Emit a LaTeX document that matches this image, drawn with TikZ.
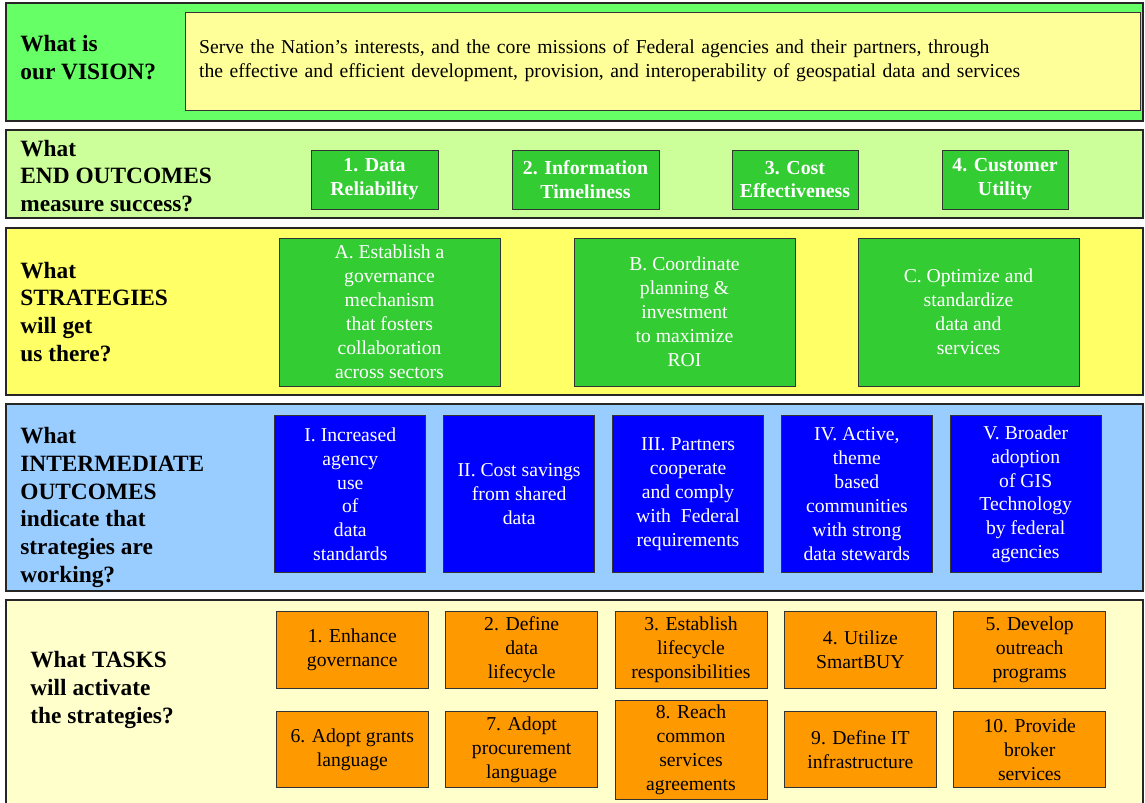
\documentclass[tikz,border=0pt]{standalone}
\usepackage{fontspec}
\setmainfont{Liberation Serif}
\usetikzlibrary{matrix}

\definecolor{visgreen}{HTML}{66FF66}
\definecolor{visyellow}{HTML}{FFFF99}
\definecolor{endgreen}{HTML}{CCFF99}
\definecolor{boxgreen}{HTML}{33CC33}
\definecolor{stratyellow}{HTML}{FFFF66}
\definecolor{interblue}{HTML}{99CCFF}
\definecolor{boxblue}{HTML}{0000FF}
\definecolor{taskcream}{HTML}{FFFFCC}
\definecolor{boxorange}{HTML}{FF9900}

\tikzset{
    band/.style={draw=black!85, line width=0.9pt},
    title/.style={anchor=west, inner sep=0pt, align=left,
                  font=\fontsize{13.3}{15.9}\selectfont\bfseries},
    box/.style={draw=black!80, line width=0.5pt, align=center, inner sep=2pt, anchor=center,
                font=\fontsize{11.2}{13.6}\selectfont},
    endbox/.style={box, fill=boxgreen, text=white, minimum height=1.18cm,
                   font=\fontsize{11.3}{13.6}\selectfont\bfseries},
    stratbox/.style={box, fill=boxgreen, text=white, minimum width=4.42cm, minimum height=2.96cm},
    interbox/.style={box, fill=boxblue, text=white, minimum width=3.02cm, minimum height=3.14cm},
    taskbox/.style={box, fill=boxorange, minimum width=3.04cm, minimum height=1.53cm},
}

\begin{document}
\begin{tikzpicture}[x=0.02cm, y=-0.02cm]
    \useasboundingbox (0,0) rectangle (1145,803);

    % Fasce di sfondo
    \draw[band, fill=visgreen]    (6,3)   rectangle (1143,121);
    \draw[band, fill=endgreen]    (6,130) rectangle (1143,218);
    \draw[band, fill=stratyellow] (6,228) rectangle (1143,395);
    \draw[band, fill=interblue]   (6,404) rectangle (1143,591);
    \draw[band, fill=taskcream]   (6,600) rectangle (1143,812);

    % Domande a sinistra
    \node[title] (q-vision) at (20,58)    {What is\\our VISION?};
    \node[title] (q-end)    at (20,176)   {What\\END OUTCOMES\\measure success?};
    \node[title] (q-strat)  at (20,312)   {What\\STRATEGIES\\will get\\us there?};
    \node[title] (q-inter)  at (20,507.5) {What\\INTERMEDIATE\\OUTCOMES\\indicate that\\strategies are\\working?};
    \node[title] (q-task)   at (30,690)   {What TASKS\\will activate\\the strategies?};

    % Visione
    \node[box, fill=visyellow, align=left, inner xsep=0.28cm, text width=18.56cm,
          minimum height=1.96cm] (vision) at (663,61)
        {Serve the Nation’s interests, and the core missions of Federal agencies and their partners, through\\
         the effective and efficient development, provision, and interoperability of geospatial data and services};

    % Risultati finali
    \node[endbox, minimum width=2.54cm] (end-1) at (374.5,179.5) {1. Data\\Reliability};
    \node[endbox, minimum width=2.94cm] (end-2) at (585.5,179.5) {2. Information\\Timeliness};
    \node[endbox, minimum width=2.52cm] (end-3) at (795,179.5)   {3. Cost\\Effectiveness};
    \node[endbox, minimum width=2.52cm] (end-4) at (1005,179.5)  {4. Customer\\Utility};

    % Strategie
    \node[stratbox] (strat-a) at (389.5,312)
        {A. Establish a\\governance\\mechanism\\that fosters\\collaboration\\across sectors};
    \node[stratbox] (strat-b) at (684.5,312)
        {B. Coordinate\\planning \&\\investment\\to maximize\\ROI};
    \node[stratbox] (strat-c) at (968.5,312)
        {C. Optimize and\\standardize\\data and\\services};

    % Risultati intermedi
    \matrix (inter) [inner sep=0pt, column sep=0.34cm, anchor=north] at (688,415)
    {
        \node[interbox] (inter-1-1) {I. Increased\\agency\\use\\of\\data\\standards}; &
        \node[interbox] (inter-1-2) {II. Cost savings\\from shared\\data}; &
        \node[interbox] (inter-1-3) {III. Partners\\cooperate\\and comply\\with~ Federal\\requirements}; &
        \node[interbox] (inter-1-4) {IV. Active,\\theme\\based\\communities\\with strong\\data stewards}; &
        \node[interbox] (inter-1-5) {V. Broader\\adoption\\of GIS\\Technology\\by federal\\agencies}; \\
    };

    % Compiti
    \matrix (task) [inner sep=0pt, column sep=0.33cm, row sep=0.22cm, anchor=north] at (691,611)
    {
        \node[taskbox] (task-1-1) {1. Enhance\\governance}; &
        \node[taskbox] (task-1-2) {2. Define\\data\\lifecycle}; &
        \node[taskbox] (task-1-3) {3. Establish\\lifecycle\\responsibilities}; &
        \node[taskbox] (task-1-4) {4. Utilize\\SmartBUY}; &
        \node[taskbox] (task-1-5) {5. Develop\\outreach\\programs}; \\
        \node[taskbox] (task-2-1) {6. Adopt grants\\language}; &
        \node[taskbox] (task-2-2) {7. Adopt\\procurement\\language}; &
        \node[taskbox, minimum height=1.98cm] (task-2-3) {8. Reach\\common\\services\\agreements}; &
        \node[taskbox] (task-2-4) {9. Define IT\\infrastructure}; &
        \node[taskbox] (task-2-5) {10. Provide\\broker\\services}; \\
    };

\end{tikzpicture}
\end{document}
